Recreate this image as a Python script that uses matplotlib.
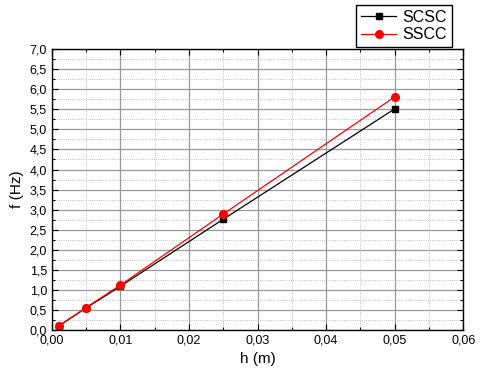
import matplotlib
matplotlib.use('Agg')
import matplotlib.pyplot as plt
from matplotlib.ticker import MultipleLocator, FuncFormatter

plt.rcParams['font.family'] = ['Liberation Sans', 'DejaVu Sans']

h = [0.001, 0.005, 0.01, 0.025, 0.05]
f_scsc = [0.10, 0.55, 1.09, 2.76, 5.51]
f_sscc = [0.10, 0.56, 1.12, 2.89, 5.81]


def comma(fmt):
	return FuncFormatter(lambda v, pos: (fmt % v).replace('.', ','))


fig = plt.figure(figsize=(4.8, 3.78), dpi=100)
ax = fig.add_axes([0.108, 0.127, 0.857, 0.743])

ax.plot(h, f_scsc, color='black', lw=0.9, marker='s', ms=4.5, label='SCSC')
ax.plot(h, f_sscc, color='red', lw=0.9, marker='o', ms=5.5, label='SSCC')

ax.set_xlim(0, 0.06)
ax.set_ylim(0, 7.0)
ax.xaxis.set_major_locator(MultipleLocator(0.01))
ax.xaxis.set_minor_locator(MultipleLocator(0.005))
ax.yaxis.set_major_locator(MultipleLocator(0.5))
ax.yaxis.set_minor_locator(MultipleLocator(0.25))
ax.xaxis.set_major_formatter(comma('%.2f'))
ax.yaxis.set_major_formatter(comma('%.1f'))

ax.grid(which='major', color='#999999', lw=0.9, ls='-')
ax.grid(which='minor', color='#aaaaaa', lw=0.6, ls=':')
ax.set_axisbelow(True)

ax.tick_params(which='both', direction='in', top=True, right=True, labelsize=9, width=0.8)
ax.tick_params(which='major', length=4)
ax.tick_params(which='minor', length=2)
for s in ax.spines.values():
	s.set_linewidth(1.0)

ax.set_xlabel('h (m)', fontsize=11)
ax.set_ylabel('f (Hz)', fontsize=11)

ax.legend(loc='upper right', bbox_to_anchor=(452 / 480, 1 - 5 / 378),
	bbox_transform=fig.transFigure, borderaxespad=0, fontsize=11.5,
	frameon=True, fancybox=False, edgecolor='black', framealpha=1,
	handlelength=2.2, borderpad=0.3, labelspacing=0.15, handletextpad=0.4)

fig.savefig('out.png', dpi=100)
